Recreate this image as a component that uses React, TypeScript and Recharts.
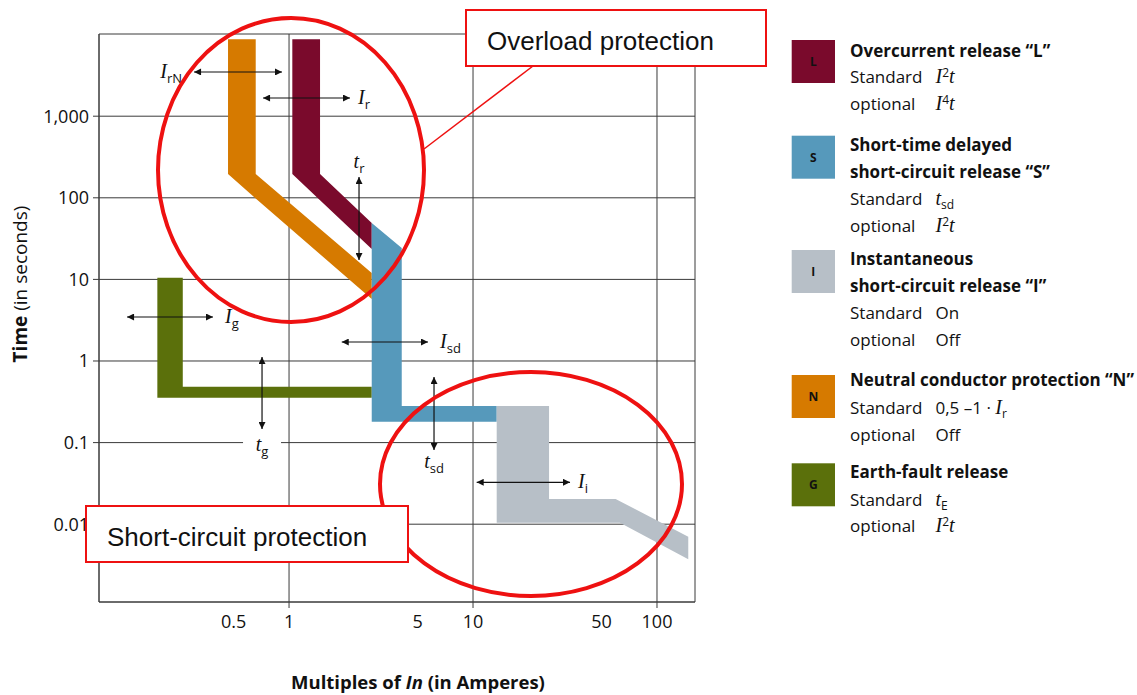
import React from 'react';
import {
  ComposedChart,
  Area,
  XAxis,
  YAxis,
  CartesianGrid,
  ReferenceLine,
  ReferenceArea,
  ReferenceDot,
} from 'recharts';

// ---------- axes ----------
const xDomain = [0.0927, 160.9];
const yDomain = [0.001113, 10172];
const xTicks = [0.5, 1, 5, 10, 50, 100];
const xTickLabels = ['0.5', '1', '5', '10', '50', '100'];
const yTicks = [0.01, 0.1, 1, 10, 100, 1000];
const yTickLabels = ['0.01', '0.1', '1', '10', '100', '1,000'];
const xGridValues = [1, 10, 100];

// ---------- bands (x in multiples of In, lo/hi in seconds) ----------
const neutralX = [0.466, 0.659, 0.659, 2.815];
const neutralLo = [195.7, 98, 98, 5.75];
const neutralHi = [8750, 8750, 195.7, 12.0];

const overcurrentX = [1.042, 1.474, 1.474, 2.815];
const overcurrentLo = [195.7, 93.5, 93.5, 23.6];
const overcurrentHi = [8750, 8750, 195.7, 49.1];

const earthX = [0.1924, 0.2645, 0.2645, 2.815];
const earthLo = [0.355, 0.355, 0.355, 0.355];
const earthHi = [10.5, 10.5, 0.484, 0.484];

const shortTimeX = [2.815, 4.098, 4.098, 13.45];
const shortTimeLo = [0.18, 0.18, 0.18, 0.18];
const shortTimeHi = [49.1, 24.3, 0.281, 0.281];

const instX = [13.45, 25.9, 25.9, 59.6, 62.9, 147.9];
const instLo = [0.01043, 0.01043, 0.01043, 0.01043, 0.01043, 0.00371];
const instHi = [0.281, 0.281, 0.0204, 0.0204, 0.01914, 0.00703];

// ---------- annotation arrows ----------
const arrowNames = ['IrN', 'Ir', 'tr', 'Ig', 'Isd', 'tg', 'tsd', 'Ii'];
const arrowStartX = [0.3046, 0.7226, 2.401, 0.1317, 1.934, 0.7132, 6.138, 10.47];
const arrowStartY = [3482, 1671, 179.8, 3.461, 1.709, 1.119, 0.637, 0.03263];
const arrowEndX = [0.916, 2.145, 2.401, 0.386, 5.693, 0.7132, 6.138, 33.67];
const arrowEndY = [3482, 1671, 17.29, 3.461, 1.709, 0.1468, 0.0812, 0.03263];

const labelMain = ['I', 'I', 't', 'I', 'I', 't', 't', 'I'];
const labelSub = ['rN', 'r', 'r', 'g', 'sd', 'g', 'sd', 'i'];
const labelX = [0.2621, 2.371, 2.401, 0.449, 6.617, 0.7132, 6.138, 37.22];
const labelY = [3482, 1671, 274.6, 3.461, 1.709, 0.0934, 0.0578, 0.03263];
const labelAnchor = ['end', 'start', 'middle', 'start', 'start', 'middle', 'middle', 'start'];

// ---------- legend ----------
const legendLetters = ['L', 'S', 'I', 'N', 'G'];
const legendTitles = [
  ['Overcurrent release \u201CL\u201D'],
  ['Short-time delayed', 'short-circuit release \u201CS\u201D'],
  ['Instantaneous', 'short-circuit release \u201CI\u201D'],
  ['Neutral conductor protection \u201CN\u201D'],
  ['Earth-fault release'],
];

// ---------- styles ----------
const MAROON = '#7a0a2c';
const ORANGE = '#d67a00';
const BLUE = '#5699bb';
const GRAY = '#b7bfc7';
const GREEN = '#5b700b';
const GRID = '#3a3a3a';
const RED = '#ee1111';
const SANS = '"Open Sans", "Noto Sans", sans-serif';
const SERIF = '"Liberation Serif", "DejaVu Serif", serif';
const legendColors = [MAROON, BLUE, GRAY, ORANGE, GREEN];

const rows = (xs: number[], lo: number[], hi: number[]) =>
  xs.map((x, i) => ({ x, r: [lo[i], hi[i]] }));

const bands = [
  { key: 'N', data: rows(neutralX, neutralLo, neutralHi), color: ORANGE },
  { key: 'L', data: rows(overcurrentX, overcurrentLo, overcurrentHi), color: MAROON },
  { key: 'G', data: rows(earthX, earthLo, earthHi), color: GREEN },
  { key: 'S', data: rows(shortTimeX, shortTimeLo, shortTimeHi), color: BLUE },
  { key: 'I', data: rows(instX, instLo, instHi), color: GRAY },
];

type Tok = { t: string; k: 'm' | 'n' | 'sup' | 'sub' };

function Rich({ x, y, toks, size }: { x: number; y: number; toks: Tok[]; size: number }) {
  let cur = 0;
  return (
    <text x={x} y={y} fill="#111">
      {toks.map((tk, i) => {
        const target = tk.k === 'sup' ? -6 : tk.k === 'sub' ? 4 : 0;
        const dy = target - cur;
        cur = target;
        if (tk.k === 'm')
          return (
            <tspan key={i} dy={dy} fontFamily={SERIF} fontStyle="italic" fontSize={size + 3}>
              {tk.t}
            </tspan>
          );
        return (
          <tspan key={i} dy={dy} fontFamily={SANS} fontSize={tk.k === 'n' ? size : size - 5}>
            {tk.t}
          </tspan>
        );
      })}
    </text>
  );
}

const I2t: Tok[] = [
  { t: 'I', k: 'm' },
  { t: '2', k: 'sup' },
  { t: 't', k: 'm' },
];
const I4t: Tok[] = [
  { t: 'I', k: 'm' },
  { t: '4', k: 'sup' },
  { t: 't', k: 'm' },
];
const tsd: Tok[] = [
  { t: 't', k: 'm' },
  { t: 'sd', k: 'sub' },
];
const tE: Tok[] = [
  { t: 't', k: 'm' },
  { t: 'E', k: 'sub' },
];
const on: Tok[] = [{ t: 'On', k: 'n' }];
const off: Tok[] = [{ t: 'Off', k: 'n' }];
const halfIr: Tok[] = [
  { t: '0,5 \u20131 \u00B7 ', k: 'n' },
  { t: 'I', k: 'm' },
  { t: 'r', k: 'sub' },
];
const legendStd = [I2t, tsd, on, halfIr, tE];
const legendOpt = [I4t, I2t, off, off, I2t];

// layout of legend
const legSquareTop = [40, 135.7, 250, 375, 463.3];
const legTitleBase = [[56.7], [150.7, 178.3], [265, 291.7], [386], [478.3]];
const legOptBase = [
  [83.3, 110],
  [205, 231.7],
  [318.5, 346.3],
  [414.3, 440.7],
  [505.7, 532.3],
];

const XTick = (props: any) => {
  const { x, y, payload } = props;
  const i = xTicks.indexOf(payload.value);
  const major = xGridValues.includes(payload.value);
  return (
    <g>
      {major && <line x1={x} x2={x} y1={y - 13} y2={y - 7} stroke={GRID} />}
      <text x={x} y={y} dy="0.71em" textAnchor="middle" fontFamily={SANS} fontSize={18} fill="#111">
        {i >= 0 ? xTickLabels[i] : payload.value}
      </text>
    </g>
  );
};

const makeLabel = (i: number) => (props: any) => {
  const { cx, cy } = props;
  const bg = arrowNames[i] === 'tg';
  return (
    <g>
      {bg && <rect x={cx - 19} y={cy - 12} width={38} height={24} fill="#fff" />}
      <text x={cx} y={cy} dy={6} textAnchor={labelAnchor[i] as any} fill="#111">
        <tspan fontFamily={SERIF} fontStyle="italic" fontSize={20}>
          {labelMain[i]}
        </tspan>
        <tspan fontFamily={SANS} fontSize={13} dy={5}>
          {labelSub[i]}
        </tspan>
      </text>
    </g>
  );
};

const arrowShape = (p: any) => (
  <line
    x1={p.x1}
    y1={p.y1}
    x2={p.x2}
    y2={p.y2}
    stroke="#111"
    strokeWidth={1.2}
    markerStart="url(#ah)"
    markerEnd="url(#ah)"
  />
);

export default function App() {
  return (
    <div style={{ position: 'absolute', left: 0, top: 0, width: 1137, height: 695, background: '#fff' }}>
      <ComposedChart width={1137} height={695} margin={{ top: 34, right: 442, bottom: 63, left: 39 }}>
        <CartesianGrid stroke={GRID} horizontalValues={yTicks} verticalValues={xGridValues} />
        <XAxis
          dataKey="x"
          type="number"
          scale="log"
          domain={xDomain}
          allowDataOverflow
          ticks={xTicks}
          interval={0}
          height={30}
          tickSize={6}
          tickMargin={7}
          tickLine={false}
          axisLine={{ stroke: GRID }}
          tick={XTick}
        />
        <YAxis
          type="number"
          scale="log"
          domain={yDomain}
          allowDataOverflow
          ticks={yTicks}
          interval={0}
          width={60}
          tickSize={6}
          tickMargin={4}
          axisLine={{ stroke: GRID }}
          tickLine={{ stroke: GRID }}
          tick={{ fontFamily: SANS, fontSize: 18, fill: '#111' }}
          tickFormatter={(v: number) => {
            const i = yTicks.indexOf(v);
            return i >= 0 ? yTickLabels[i] : String(v);
          }}
        />
        {bands.map((b) => (
          <Area
            key={b.key}
            data={b.data}
            dataKey="r"
            type="linear"
            fill={b.color}
            fillOpacity={1}
            stroke="none"
            dot={false}
            activeDot={false}
            isAnimationActive={false}
          />
        ))}
        <ReferenceArea
          x1={xDomain[0]}
          x2={xDomain[1]}
          y1={yDomain[0]}
          y2={yDomain[1]}
          fill="none"
          fillOpacity={0}
          stroke={GRID}
          strokeWidth={1}
        />
        {arrowNames.map((n, i) => (
          <ReferenceLine
            key={'a' + n}
            segment={[
              { x: arrowStartX[i], y: arrowStartY[i] },
              { x: arrowEndX[i], y: arrowEndY[i] },
            ]}
            shape={arrowShape}
          />
        ))}
        {arrowNames.map((n, i) => (
          <ReferenceDot key={'l' + n} x={labelX[i]} y={labelY[i]} r={0} shape={makeLabel(i)} />
        ))}
      </ComposedChart>
      <svg
        width={1137}
        height={695}
        style={{ position: 'absolute', left: 0, top: 0, pointerEvents: 'none' }}
      >
        <defs>
          <marker
            id="ah"
            viewBox="0 0 10 10"
            refX="10"
            refY="5"
            markerWidth="12"
            markerHeight="7"
            markerUnits="userSpaceOnUse"
            orient="auto-start-reverse"
          >
            <path d="M0,0 L10,5 L0,10 z" fill="#111" />
          </marker>
        </defs>
        {/* red highlight ellipses */}
        <ellipse cx={291} cy={170} rx={133} ry={152} fill="none" stroke={RED} strokeWidth={4} />
        <ellipse cx={531} cy={484} rx={151} ry={112} fill="none" stroke={RED} strokeWidth={4} />
        <line x1={533} y1={66} x2={424} y2={149} stroke={RED} strokeWidth={1.5} />
        {/* callout boxes */}
        <rect x={466} y={10} width={300} height={56} fill="#fff" stroke={RED} strokeWidth={2} />
        <text x={487} y={50} fontFamily='"Liberation Sans", Arial, sans-serif' fontSize={26} fill="#111">
          Overload protection
        </text>
        <rect x={86} y={506} width={322} height={56} fill="#fff" stroke={RED} strokeWidth={2} />
        <text x={107} y={546} fontFamily='"Liberation Sans", Arial, sans-serif' fontSize={26} fill="#111">
          Short-circuit protection
        </text>
        {/* axis titles */}
        <text
          transform="translate(27,284) rotate(-90)"
          textAnchor="middle"
          fontFamily={SANS}
          fontSize={19}
          fill="#111"
        >
          <tspan fontWeight="bold">Time</tspan>
          <tspan> (in seconds)</tspan>
        </text>
        <text x={418} y={689} textAnchor="middle" fontFamily={SANS} fontSize={18.5} fontWeight="bold" fill="#111">
          <tspan>Multiples of </tspan>
          <tspan fontStyle="italic">In</tspan>
          <tspan> (in Amperes)</tspan>
        </text>
        {/* legend */}
        {legendLetters.map((letter, i) => (
          <g key={letter}>
            <rect x={791.7} y={legSquareTop[i]} width={43.3} height={43} fill={legendColors[i]} />
            <text
              x={813.3}
              y={legSquareTop[i] + 21.5}
              dy={4.5}
              textAnchor="middle"
              fontFamily={SANS}
              fontWeight="bold"
              fontSize={12}
              fill="#111"
            >
              {letter}
            </text>
            {legendTitles[i].map((t, j) => (
              <text
                key={j}
                x={850}
                y={legTitleBase[i][j]}
                fontFamily={SANS}
                fontWeight="bold"
                fontSize={17}
                fill="#111"
              >
                {t}
              </text>
            ))}
            <text x={850} y={legOptBase[i][0]} fontFamily={SANS} fontSize={17} fill="#111">
              Standard
            </text>
            <Rich x={935.5} y={legOptBase[i][0]} toks={legendStd[i]} size={17} />
            <text x={850} y={legOptBase[i][1]} fontFamily={SANS} fontSize={17} fill="#111">
              optional
            </text>
            <Rich x={935.5} y={legOptBase[i][1]} toks={legendOpt[i]} size={17} />
          </g>
        ))}
      </svg>
    </div>
  );
}
